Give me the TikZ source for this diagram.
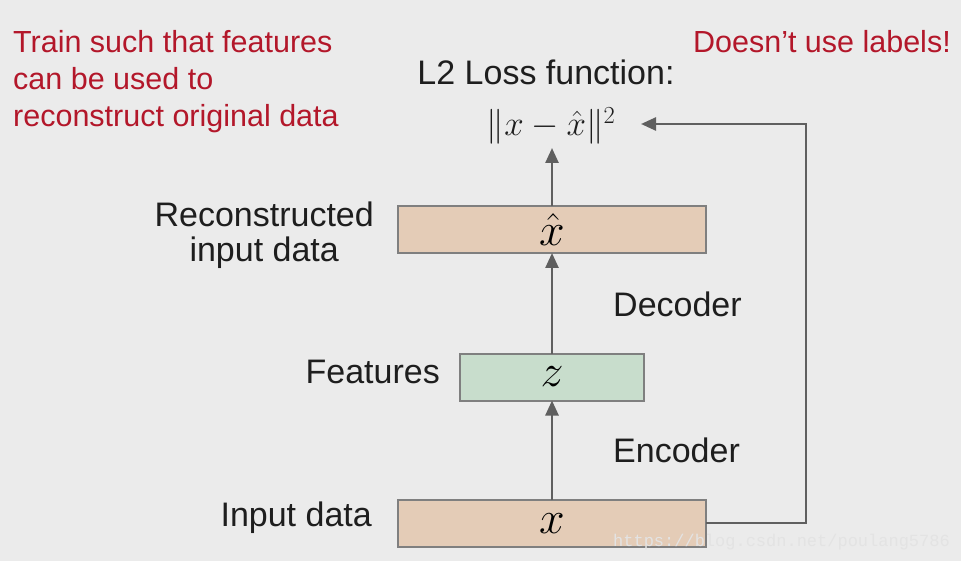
\RequirePackage{fix-cm}
\documentclass[tikz,border=0pt]{standalone}
\usepackage{fontspec}
\setmainfont{Liberation Sans}
\newfontfamily\wmfont{Liberation Mono}
\usetikzlibrary{arrows.meta}
\definecolor{bgc}{HTML}{EBEBEB}
\definecolor{peach}{HTML}{E4CCB7}
\definecolor{mint}{HTML}{C8DDCC}
\definecolor{edgec}{HTML}{7F7F7F}
\definecolor{linec}{HTML}{5F5F5F}
\definecolor{redtext}{HTML}{B3172A}
\definecolor{darktext}{HTML}{1E1E1E}
\tikzset{
  layer/.style={draw=edgec, line width=2pt, inner sep=0pt, outer sep=0pt,
    minimum height=47pt, font=\fontsize{46}{46}\selectfont},
  lbl/.style={text=darktext, font=\fontsize{34}{35}\selectfont, inner sep=0pt},
  note/.style={text=redtext, font=\fontsize{30.5}{37}\selectfont, inner sep=0pt},
  conn/.style={draw=linec, line width=2.5pt,
    -{Triangle[length=15pt,width=13pt]}}
}
\begin{document}
\begin{tikzpicture}[x=1pt,y=-1pt]
\useasboundingbox (0,0) rectangle (961,561);
\fill[bgc] (0,0) rectangle (961,561);

% layers of the network
\node[layer, fill=peach, minimum width=308pt] (xin) at (552,523.5) {$x$};
\node[layer, fill=mint, minimum width=184pt] (feat) at (552,377) {$z$};
\node[layer, fill=peach, minimum width=308pt] (xrec) at (552,229.5) {$\hat{x}$};
\node[text=darktext, inner sep=0pt, font=\fontsize{35}{35}\selectfont]
  (loss) at (551,126) {$\|x-\hat{x}\|^2$};

% connectors
\draw[conn] (xin.north) -- (feat.south);
\draw[conn] (feat.north) -- (xrec.south);
\draw[conn] (xrec.north) -- (552,148) coordinate (lossin);
\coordinate (turn1) at (806,523);
\coordinate (turn2) at (806,124);
\draw[conn] (xin.east |- turn1) -- (turn1) -- (turn2) -- (641,124) coordinate (lossr);

% labels
\node[lbl, anchor=base] (lossl) at (546,85) {L2 Loss function:};
\node[lbl, align=center, anchor=east] (recl) at (374,235.5) {Reconstructed\\input data};
\node[lbl, anchor=west] (decl) at (613,304) {Decoder};
\node[lbl, anchor=east] (featl) at (440,372) {Features};
\node[lbl, anchor=west] (encl) at (613,450) {Encoder};
\node[lbl, anchor=east] (inl) at (372,518) {Input data};

% notes
\node[note, align=left, anchor=north west] (train) at (13,30)
  {Train such that features\\can be used to\\reconstruct original data};
\node[note, anchor=north east] (nolab) at (951,30) {Doesn’t use labels!};

% source mark
\node[text=white!78!gray, font=\wmfont\fontsize{17}{17}\selectfont, anchor=east, inner sep=0pt]
  (wm) at (950,542) {https://blog.csdn.net/poulang5786};
\end{tikzpicture}
\end{document}
